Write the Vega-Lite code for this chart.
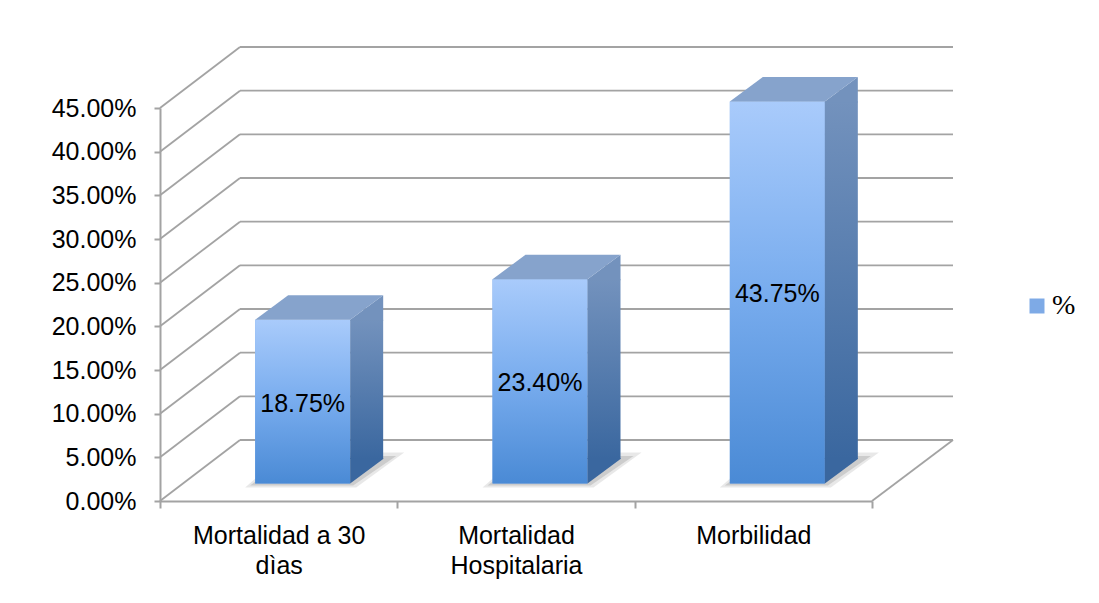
{
  "$schema": "https://vega.github.io/schema/vega-lite/v6.json",
  "width": 712,
  "height": 393,
  "autosize": {"type": "none"},
  "padding": {"left": 160, "top": 108, "right": 227, "bottom": 102},
  "background": "white",
  "config": {"view": {"stroke": null}, "font": "Liberation Sans"},
  "datasets": {
    "bars": [
      {"categoria": "Mortalidad a 30 dìas", "valor": 0.1875},
      {"categoria": "Mortalidad Hospitalaria", "valor": 0.234},
      {"categoria": "Morbilidad", "valor": 0.4375}
    ],
    "ticks": [
      {"t": 0}, {"t": 0.05}, {"t": 0.1}, {"t": 0.15}, {"t": 0.2},
      {"t": 0.25}, {"t": 0.3}, {"t": 0.35}, {"t": 0.4}, {"t": 0.45}
    ]
  },
  "resolve": {"scale": {"y": "independent"}},
  "layer": [
    {
      "layer": [
        {
          "data": {"name": "ticks"},
          "mark": {"type": "rule", "color": "#a3a3a3", "strokeWidth": 1.8, "xOffset": 80, "x2Offset": 81, "yOffset": -61, "y2Offset": -61},
          "encoding": {
            "x": {"datum": "Mortalidad a 30 dìas", "bandPosition": 0},
            "x2": {"datum": "Morbilidad", "bandPosition": 1},
            "y": {
              "field": "t", "type": "quantitative",
              "scale": {"domain": [0, 0.45], "nice": false},
              "axis": {
                "title": null, "grid": false,
                "values": [0, 0.05, 0.1, 0.15, 0.2, 0.25, 0.3, 0.35, 0.4, 0.45],
                "format": ".2%",
                "domainColor": "#a3a3a3", "domainWidth": 2,
                "tickColor": "#a3a3a3", "tickWidth": 2, "tickSize": 6,
                "labelFont": "Liberation Sans", "labelFontSize": 25, "labelColor": "#000000", "labelPadding": 18
              }
            },
            "y2": {"field": "t"}
          }
        },
        {
          "data": {"name": "ticks"},
          "mark": {"type": "rule", "color": "#a3a3a3", "strokeWidth": 1.8, "x2Offset": 80, "y2Offset": -61},
          "encoding": {
            "x": {"datum": "Mortalidad a 30 dìas", "bandPosition": 0},
            "x2": {"datum": "Mortalidad a 30 dìas", "bandPosition": 0},
            "y": {"field": "t", "type": "quantitative"},
            "y2": {"field": "t"}
          }
        },
        {
          "data": {"values": [{"e": 1}]},
          "mark": {"type": "rule", "color": "#a3a3a3", "strokeWidth": 1.8, "x2Offset": 81, "y2Offset": -61},
          "encoding": {
            "x": {"datum": "Morbilidad", "bandPosition": 1},
            "x2": {"datum": "Morbilidad", "bandPosition": 1},
            "y": {"datum": 0, "type": "quantitative"},
            "y2": {"datum": 0}
          }
        },
        {
          "data": {"name": "bars"},
          "mark": {"type": "point", "shape": "M-33.5,-13.5L77.5,-13.5L125.5,-48.5L6.5,-48.5Z", "size": 4, "filled": true, "fill": "#8c8c8c", "opacity": 0.2, "strokeWidth": 0},
          "encoding": {
            "x": {"field": "categoria", "type": "nominal", "sort": ["Mortalidad a 30 dìas", "Mortalidad Hospitalaria", "Morbilidad"]},
            "y": {"datum": 0, "type": "quantitative"}
          }
        },
        {
          "data": {"name": "bars"},
          "mark": {"type": "point", "shape": "M-28.5,-15.5L74.5,-15.5L117.5,-45L9.5,-45Z", "size": 4, "filled": true, "fill": "#8c8c8c", "opacity": 0.3, "strokeWidth": 0},
          "encoding": {
            "x": {"field": "categoria", "type": "nominal", "sort": ["Mortalidad a 30 dìas", "Mortalidad Hospitalaria", "Morbilidad"]},
            "y": {"datum": 0, "type": "quantitative"}
          }
        },
        {
          "data": {"name": "bars"},
          "mark": {"type": "bar", "width": 95, "xOffset": 24, "yOffset": -17.5, "y2Offset": -17.5},
          "encoding": {
            "x": {
              "field": "categoria", "type": "nominal",
              "sort": ["Mortalidad a 30 dìas", "Mortalidad Hospitalaria", "Morbilidad"],
              "scale": {"paddingInner": 0, "paddingOuter": 0},
              "axis": {
                "title": null, "labelAngle": 0, "labelAlign": "center", "labelBaseline": "top", "tickBand": "extent",
                "labelExpr": "datum.value == 'Mortalidad a 30 dìas' ? ['Mortalidad a 30', 'dìas'] : datum.value == 'Mortalidad Hospitalaria' ? ['Mortalidad', 'Hospitalaria'] : datum.value",
                "domainColor": "#a3a3a3", "domainWidth": 2,
                "tickColor": "#a3a3a3", "tickWidth": 2, "tickSize": 7,
                "labelFont": "Liberation Sans", "labelFontSize": 25, "labelColor": "#000000",
                "labelPadding": 15, "labelLineHeight": 30, "labelLimit": 400
              }
            },
            "y": {"field": "valor", "type": "quantitative"},
            "y2": {"datum": 0},
            "color": {
              "datum": "%",
              "scale": {"range": ["#7eaae6"]},
              "legend": {
                "orient": "none", "legendX": 863, "legendY": 184, "title": null,
                "symbolType": "square", "symbolSize": 225, "symbolStrokeWidth": 0,
                "labelFont": "Liberation Serif", "labelFontSize": 28, "labelColor": "#000000", "labelOffset": 1
              }
            }
          }
        },
        {
          "data": {"name": "bars"},
          "mark": {
            "type": "bar", "width": 95, "xOffset": 24, "yOffset": -17.5, "y2Offset": -17.5,
            "color": {"gradient": "linear", "x1": 0, "y1": 0, "x2": 0, "y2": 1,
              "stops": [{"offset": 0, "color": "#a9cbfb"}, {"offset": 0.5, "color": "#78acee"}, {"offset": 1, "color": "#4a8ad5"}]}
          },
          "encoding": {
            "x": {"field": "categoria", "type": "nominal", "sort": ["Mortalidad a 30 dìas", "Mortalidad Hospitalaria", "Morbilidad"]},
            "y": {"field": "valor", "type": "quantitative"},
            "y2": {"datum": 0}
          }
        },
        {
          "data": {"name": "bars"},
          "mark": {
            "type": "bar", "width": 33, "xOffset": 88, "yOffset": -17.5, "y2Offset": -42,
            "color": {"gradient": "linear", "x1": 0, "y1": 0, "x2": 0, "y2": 1,
              "stops": [{"offset": 0, "color": "#7392bd"}, {"offset": 1, "color": "#3a679f"}]}
          },
          "encoding": {
            "x": {"field": "categoria", "type": "nominal", "sort": ["Mortalidad a 30 dìas", "Mortalidad Hospitalaria", "Morbilidad"]},
            "y": {"field": "valor", "type": "quantitative"},
            "y2": {"datum": 0}
          }
        },
        {
          "data": {"name": "bars"},
          "mark": {"type": "point", "shape": "M71.5,-16.5L71.5,-17.5L104.5,-42L104.5,-16.5Z", "size": 4, "filled": true, "fill": "#7392bd", "opacity": 1, "strokeWidth": 0},
          "encoding": {
            "x": {"field": "categoria", "type": "nominal", "sort": ["Mortalidad a 30 dìas", "Mortalidad Hospitalaria", "Morbilidad"]},
            "y": {"field": "valor", "type": "quantitative"}
          }
        },
        {
          "data": {"name": "bars"},
          "mark": {"type": "point", "shape": "M71.5,-43L104.5,-43L104.5,-42L71.5,-17.5Z", "size": 4, "filled": true, "fill": "#3a679f", "opacity": 1, "strokeWidth": 0},
          "encoding": {
            "x": {"field": "categoria", "type": "nominal", "sort": ["Mortalidad a 30 dìas", "Mortalidad Hospitalaria", "Morbilidad"]},
            "y": {"datum": 0, "type": "quantitative"}
          }
        },
        {
          "data": {"name": "bars"},
          "mark": {"type": "point", "shape": "M-23.5,-17.5L71.5,-17.5L104.5,-42L9.5,-42Z", "size": 4, "filled": true, "fill": "#86a3cc", "opacity": 1, "strokeWidth": 0},
          "encoding": {
            "x": {"field": "categoria", "type": "nominal", "sort": ["Mortalidad a 30 dìas", "Mortalidad Hospitalaria", "Morbilidad"]},
            "y": {"field": "valor", "type": "quantitative"}
          }
        }
      ]
    },
    {
      "data": {"name": "bars"},
      "mark": {"type": "text", "font": "Liberation Sans", "fontSize": 25, "color": "#000000", "dx": 24, "dy": 2, "yOffset": -17.5, "baseline": "middle", "align": "center"},
      "encoding": {
        "x": {"field": "categoria", "type": "nominal", "sort": ["Mortalidad a 30 dìas", "Mortalidad Hospitalaria", "Morbilidad"]},
        "y": {"field": "valor", "type": "quantitative", "scale": {"domain": [0, 0.9], "nice": false}, "axis": null},
        "text": {"field": "valor", "type": "quantitative", "format": ".2%"}
      }
    }
  ]
}
